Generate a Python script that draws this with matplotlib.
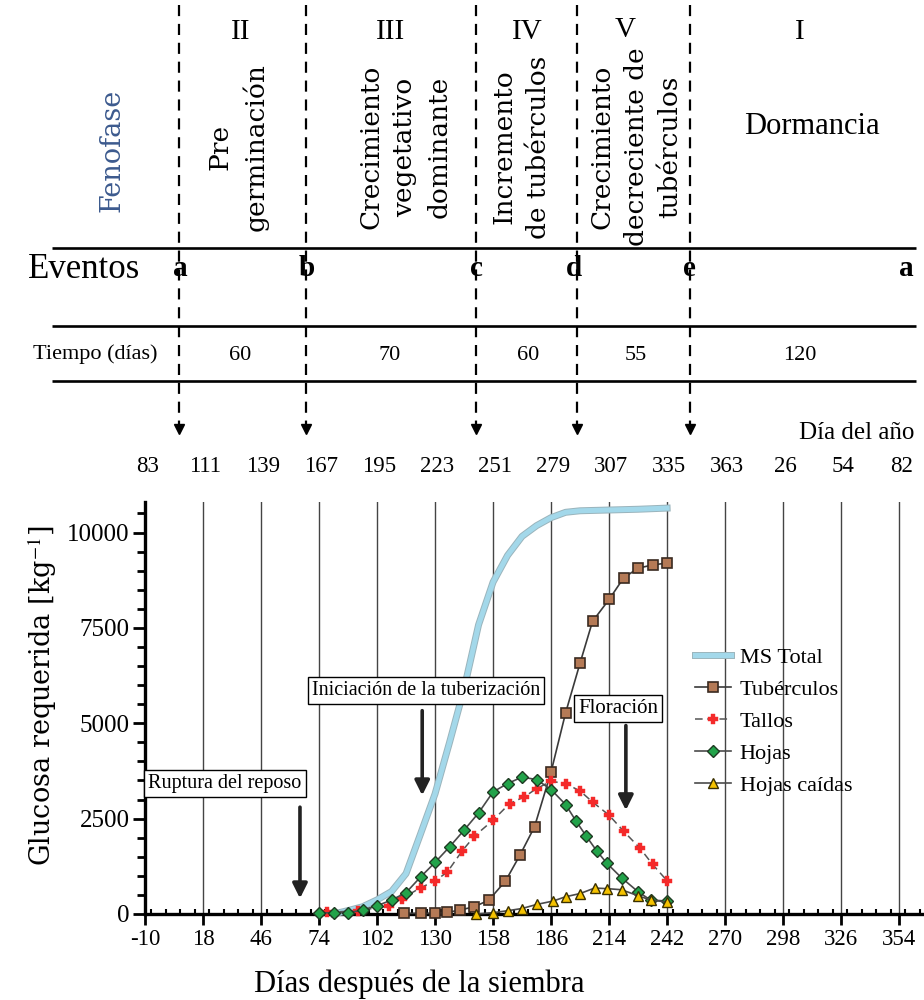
import numpy as np
import matplotlib
matplotlib.use('Agg')
import matplotlib.pyplot as plt
import matplotlib.patheffects as pe
from matplotlib.ticker import MultipleLocator

plt.rcParams['font.family'] = ['Liberation Serif', 'DejaVu Serif']
plt.rcParams['mathtext.fontset'] = 'stix'

# --- data (days after sowing, glucose kg^-1) ---
ms_days = [81, 88, 95, 102, 109, 116, 123, 130, 137, 144, 151, 158, 165, 172,
           179, 186, 193, 200, 207, 214, 221, 228, 235, 242]
ms_total = [0, 90, 190, 370, 590, 1060, 2100, 3150, 4500, 5900, 7580, 8700, 9400, 9900,
            10180, 10390, 10530, 10570, 10580, 10590, 10600, 10610, 10625, 10640]

tub_days = [115, 123, 130, 136, 142, 149, 156, 164, 171, 178, 186, 193, 200, 206,
            214, 221, 228, 235, 242]
tuberculos = [18, 18, 18, 42, 105, 190, 366, 864, 1545, 2285, 3725, 5270, 6580, 7670,
              8245, 8810, 9065, 9150, 9200]

tallo_days = [78, 93, 108, 114, 123, 130, 136, 143, 149, 158, 166, 173, 179, 186,
              193, 200, 206, 214, 221, 229, 235, 242]
tallos = [44, 86, 217, 400, 690, 863, 1106, 1648, 2040, 2459, 2896, 3068, 3288, 3479,
          3419, 3225, 2937, 2590, 2171, 1719, 1300, 871]

hoja_days = [74, 81, 88, 95, 102, 109, 116, 123, 130, 137, 144, 151, 158, 165, 172,
             179, 186, 193, 198, 203, 208, 213, 220, 228, 234, 242]
hojas = [30, 30, 30, 105, 217, 366, 560, 970, 1352, 1760, 2197, 2650, 3200, 3420, 3590,
         3523, 3262, 2870, 2440, 2040, 1656, 1326, 950, 583, 366, 340]

caida_days = [150, 158, 165, 172, 179, 187, 193, 200, 207, 213, 220, 228, 234, 242]
hojas_caidas = [0, 34, 86, 144, 250, 340, 452, 536, 680, 665, 636, 479, 366, 314]

x_ticks = [-10, 18, 46, 74, 102, 130, 158, 186, 214, 242, 270, 298, 326, 354]
doy_labels = ['83', '111', '139', '167', '195', '223', '251', '279', '307', '335',
              '363', '26', '54', '82']
y_ticks = [0, 2500, 5000, 7500, 10000]

# header table
phase_num = ['II', 'III', 'IV', 'V', 'I']
phase_name = ['Pre\ngerminación', 'Crecimiento\nvegetativo\ndominante',
              'Incremento\nde tubérculos', 'Crecimiento\ndecreciente de\ntubérculos']
events = ['a', 'b', 'c', 'd', 'e', 'a']
durations = ['60', '70', '60', '55', '120']

fig = plt.figure(figsize=(9.24, 10), dpi=100)

# overlay in pixel coordinates for the header table
hx = fig.add_axes([0, 0, 1, 1], zorder=0)
hx.set_xlim(0, 924)
hx.set_ylim(1000, 0)
hx.axis('off')

event_px = [179, 306, 476, 577, 690]
for x in event_px:
    hx.plot([x, x], [5, 424], color='k', lw=1.6, ls=(0, (5, 3.5)))
    hx.plot(x, 429, marker='v', ms=7, color='k', mec='k')
for y in [248, 326, 381]:
    hx.plot([52, 916], [y, y], color='k', lw=1.9, solid_capstyle='butt')

hx.text(112, 150, 'Fenofase', rotation=90, ha='center', va='center',
        fontsize=19.5, family='DejaVu Serif', color='#3c5a8e')
for s, x, y in zip(phase_num, [241, 391, 527, 625, 800], [32, 32, 32, 30, 32]):
    hx.text(x, y, s, ha='center', va='center', fontsize=21)
for s, x in zip(phase_name, [238, 405, 521, 636]):
    hx.text(x, 147, s, rotation=90, ha='center', va='center', fontsize=19,
            family='DejaVu Serif', linespacing=1.45, multialignment='center')
hx.text(812, 127, 'Dormancia', ha='center', va='center', fontsize=22)

hx.text(84, 270, 'Eventos', ha='center', va='center', fontsize=25)
for s, x in zip(events, [180, 307, 476, 574, 689, 906]):
    hx.text(x, 268, s, ha='center', va='center', fontsize=21, fontweight='bold')

hx.text(95, 354, 'Tiempo (días)', ha='center', va='center', fontsize=16)
for s, x in zip(durations, [240, 390, 528, 636, 800]):
    hx.text(x, 355, s, ha='center', va='center', fontsize=16)

hx.text(857, 433, 'Día del año', ha='center', va='center', fontsize=18)

# main chart
ax = fig.add_axes([145 / 924, 0.086, 1 - 145 / 924, 0.412], zorder=1)
ax.patch.set_alpha(0)

ax.plot(ms_days, ms_total, color='#a3d8ea', lw=3.6, label='MS Total', clip_on=False,
        path_effects=[pe.Stroke(linewidth=5.0, foreground='#9ab4bc'), pe.Normal()], zorder=4)
ax.plot(tub_days, tuberculos, color='#3a3a3a', lw=1.2, marker='s', ms=7,
        mfc='#b57a56', mec='#3a2a20', mew=1.2, label='Tubérculos', clip_on=False, zorder=5)
ax.plot(tallo_days, tallos, color='#555555', lw=1.1, ls=(0, (5, 3)), marker='P', ms=7,
        mfc='#f42a2a', mec='#f42a2a', mew=0.3, label='Tallos', clip_on=False, zorder=5)
ax.plot(hoja_days, hojas, color='#4a4a4a', lw=1.2, marker='D', ms=6.5,
        mfc='#22a34a', mec='#1e3a22', mew=1.0, label='Hojas', clip_on=False, zorder=6)
ax.plot(caida_days, hojas_caidas, color='#4a4a4a', lw=1.2, marker='^', ms=7,
        mfc='#f5c200', mec='#3a3000', mew=1.0, label='Hojas caídas', clip_on=False, zorder=6)

ax.set_xlim(-10, 366)
ax.set_ylim(0, 10800)
ax.set_xticks(x_ticks)
ax.set_xticklabels([str(t) for t in x_ticks])
ax.xaxis.set_minor_locator(MultipleLocator(7))
ax.set_yticks(y_ticks)
ax.set_yticklabels([str(t) for t in y_ticks])
ax.yaxis.set_minor_locator(MultipleLocator(500))

ax.tick_params(axis='x', which='major', direction='out', length=8, width=2,
               labelsize=16.5, pad=3)
ax.tick_params(axis='x', which='minor', direction='in', length=3.5, width=1.5)
ax.tick_params(axis='y', which='major', direction='out', length=9, width=2,
               labelsize=18, pad=2)
ax.tick_params(axis='y', which='minor', direction='out', length=6, width=2)

for side in ['top', 'right']:
    ax.spines[side].set_visible(False)
for side in ['left', 'bottom']:
    ax.spines[side].set_linewidth(2.4)

ax.grid(axis='x', which='major', color='#444444', lw=1.0)

# day of year labels above the chart
for t, s in zip(x_ticks, doy_labels):
    ax.text(t + 1, 1.085, s, transform=ax.get_xaxis_transform(), ha='center',
            va='center', fontsize=16.5)

ax.set_xlabel('Días después de la siembra', fontsize=22)
ax.xaxis.set_label_coords(0.352, -0.135)
ax.set_ylabel('Glucosa requerida [kg$^{-1}$]', fontsize=19.5, family='DejaVu Serif')
ax.yaxis.set_label_coords(-0.11, 0.53)

box = dict(boxstyle='square,pad=0.2', fc='white', ec='black', lw=1)
ax.text(28.6, 3430, 'Ruptura del reposo', ha='center', va='center', fontsize=14.5, bbox=box, zorder=7)
ax.text(125.6, 5860, 'Iniciación de la tuberización', ha='center', va='center', fontsize=14.5,
        bbox=box, zorder=7)
ax.text(218.3, 5390, 'Floración', ha='center', va='center', fontsize=15, bbox=box, zorder=7)

arrow = dict(arrowstyle='-|>', lw=2.6, color='#222222', mutation_scale=22,
             shrinkA=0, shrinkB=0)
ax.annotate('', xy=(64.8, 410), xytext=(64.8, 2800), arrowprops=arrow, zorder=7)
ax.annotate('', xy=(123.8, 3110), xytext=(123.8, 5330), arrowprops=arrow, zorder=7)
ax.annotate('', xy=(222.1, 2720), xytext=(222.1, 4940), arrowprops=arrow, zorder=7)

ax.legend(loc='upper left', bbox_to_anchor=(684 / 924, 1 - 636 / 1000),
          bbox_transform=fig.transFigure, frameon=False, fontsize=16,
          handlelength=1.6, labelspacing=0.52, borderpad=0, handletextpad=0.4)

fig.savefig('out.png', dpi=100)
